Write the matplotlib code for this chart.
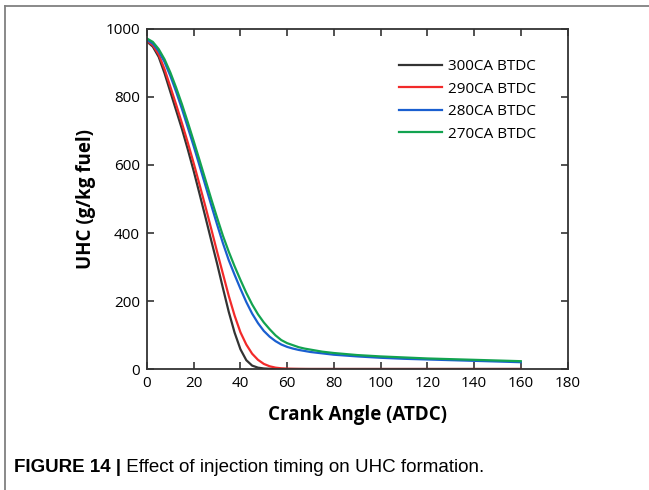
import matplotlib
matplotlib.use("Agg")
import matplotlib.pyplot as plt
from matplotlib.lines import Line2D

# Data
crank_angle = [0, 2.5, 5, 7.5, 10, 12.5, 15, 17.5, 20, 22.5, 25, 27.5, 30, 32.5, 35,
               37.5, 40, 42.5, 45, 47.5, 50, 52.5, 55, 57.5, 60, 62.5, 65, 67.5, 70,
               75, 80, 90, 100, 110, 120, 130, 140, 150, 160]
uhc_300 = [963, 948, 918, 870, 815, 760, 705, 645, 582, 515, 447, 378, 310, 238, 168,
           107, 58, 26, 10, 4, 1.5, 0.6, 0.2, 0, 0, 0, 0, 0, 0,
           0, 0, 0, 0, 0, 0, 0, 0, 0, 0]
uhc_290 = [965, 952, 925, 882, 830, 777, 722, 665, 605, 542, 478, 412, 345, 280, 215,
           157, 108, 72, 45, 27, 15, 8, 4, 2, 1, 0.6, 0.3, 0.1, 0,
           0, 0, 0, 0, 0, 0, 0, 0, 0, 0]
uhc_280 = [968, 957, 935, 903, 862, 815, 764, 710, 655, 598, 540, 482, 425, 370, 320,
           277, 236, 197, 163, 135, 112, 95, 82, 72, 65, 60, 56, 53, 50,
           46, 42, 37, 33, 30, 28, 26, 24, 22, 20]
uhc_270 = [972, 962, 941, 911, 872, 827, 778, 725, 670, 614, 557, 500, 445, 392, 345,
           302, 262, 224, 190, 161, 137, 117, 99, 85, 76, 70, 64, 60, 57,
           51, 47, 41, 37, 34, 31, 29, 27, 25, 23]
labels = ["300CA BTDC", "290CA BTDC", "280CA BTDC", "270CA BTDC"]
colors = ["#333333", "#f22a2a", "#1a5fd0", "#12a350"]
x_ticks = [0, 20, 40, 60, 80, 100, 120, 140, 160, 180]
y_ticks = [0, 200, 400, 600, 800, 1000]

W, H = 649, 490
fig = plt.figure(figsize=(W / 100, H / 100), dpi=100)
ax = fig.add_axes([147 / W, 1 - 369 / H, (567.5 - 147) / W, (369 - 29) / H])

font = "Open Sans"
for series, lab, col in zip([uhc_300, uhc_290, uhc_280, uhc_270], labels, colors):
    ax.plot(crank_angle, series, color=col, lw=1.6, label=lab)

ax.set_xlim(0, 180)
ax.set_ylim(0, 1000)
ax.set_xticks(x_ticks)
ax.set_yticks(y_ticks)
ax.tick_params(direction="in", top=True, right=True, length=5, width=1.2,
               color="#333333", labelsize=11, pad=5)
for lbl in ax.get_xticklabels() + ax.get_yticklabels():
    lbl.set_fontfamily(font)
for sp in ax.spines.values():
    sp.set_linewidth(1.3)
    sp.set_color("#333333")

ax.set_xlabel("Crank Angle (ATDC)", fontsize=13.5, fontweight="bold", family=font, labelpad=10)
ax.set_ylabel("UHC (g/kg fuel)", fontsize=13.5, fontweight="bold", family=font, labelpad=7)

leg = ax.legend(loc="upper left", bbox_to_anchor=(0.585, 0.93), frameon=False,
                prop={"family": font, "size": 11}, handlelength=2.8,
                handletextpad=0.4, labelspacing=0.5, borderaxespad=0)

# Journal frame lines
fig.add_artist(Line2D([5 / W, 1], [1 - 6 / H, 1 - 6 / H], color="#808080", lw=1.3))
fig.add_artist(Line2D([5 / W, 5 / W], [0, 1 - 6 / H], color="#808080", lw=1.3))

# Caption
t1 = fig.text(14 / W, 1 - 472 / H, "FIGURE 14 |", fontsize=13.5, fontweight="bold",
              family="Liberation Sans", va="baseline")
ax.annotate(" Effect of injection timing on UHC formation.", xy=(1, 0), xycoords=t1,
            va="bottom", ha="left", fontsize=13.5, family="Liberation Sans",
            annotation_clip=False)

fig.savefig("out.png", dpi=100)
